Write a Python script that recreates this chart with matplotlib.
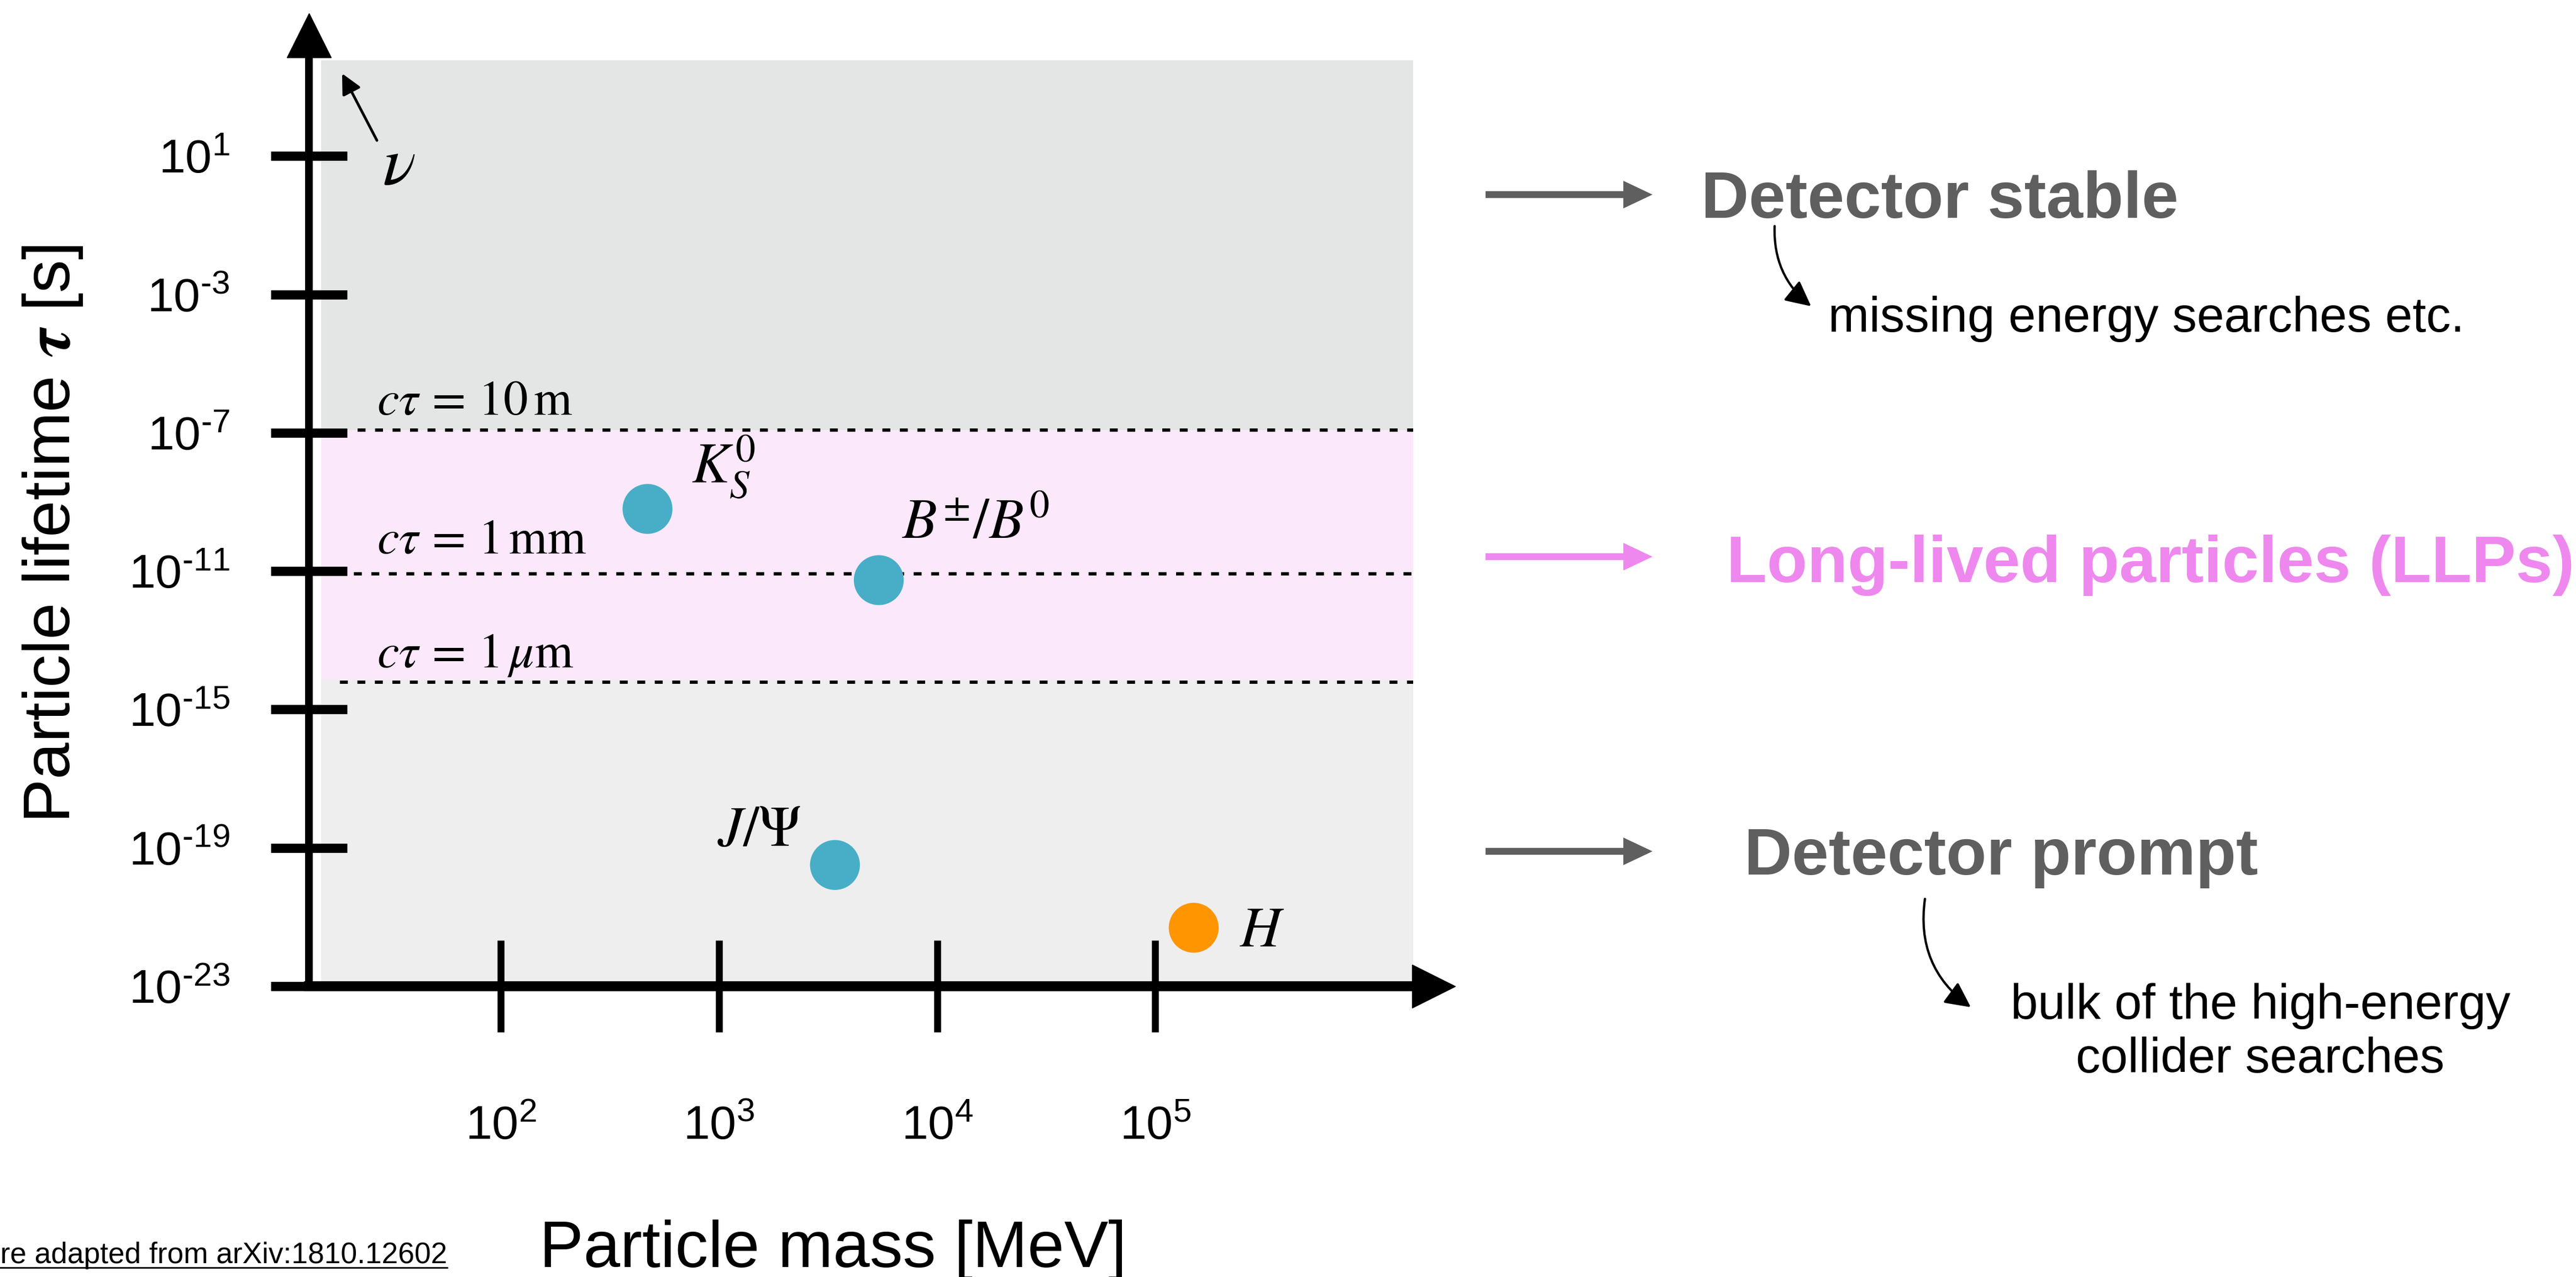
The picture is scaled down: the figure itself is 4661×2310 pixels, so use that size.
import matplotlib

matplotlib.use("Agg")
import matplotlib.pyplot as plt
from matplotlib.lines import Line2D

W, H, DPI = 4661, 2310, 100

# particles drawn as dots
particle_names = [r"$K_S^0$", r"$B^{\pm}/B^0$", r"$J/\Psi$", r"$H$"]
particle_mass = [470, 5400, 3400, 1.5e5]               # MeV
particle_tau = [6.3e-10, 5.5e-12, 3.2e-20, 4.9e-22]    # s
particle_colors = ["#48AEC7", "#48AEC7", "#48AEC7", "#FF9500"]

# c*tau reference lines
ctau_names = [r"$c\tau\, =\, 10\,\mathrm{m}$", r"$c\tau\, =\, 1\,\mathrm{mm}$",
              r"$c\tau\, =\, 1\,\mu\mathrm{m}$"]
ctau_tau = [1.2e-7, 8.5e-12, 6.2e-15]
ctau_start = [22, 14.6, 18.3]

llp_band = (7.2e-15, 1.2e-7)
region_mass = (15.0, 1.52e6)
region_tau_top = 6.0e3

xticks = [1e2, 1e3, 1e4, 1e5]
xtick_labels = ["$10^{2}$", "$10^{3}$", "$10^{4}$", "$10^{5}$"]
yticks = [1e1, 1e-3, 1e-7, 1e-11, 1e-15, 1e-19, 1e-23]
ytick_labels = ["$10^{1}$", r"$10^{\text{-}3}$", r"$10^{\text{-}7}$", r"$10^{\text{-}11}$",
                r"$10^{\text{-}15}$", r"$10^{\text{-}19}$", r"$10^{\text{-}23}$"]

plt.rcParams["font.family"] = ["Liberation Sans", "DejaVu Sans"]
plt.rcParams["mathtext.fontset"] = "custom"
plt.rcParams["mathtext.rm"] = "Liberation Sans"
plt.rcParams["mathtext.it"] = "Liberation Sans:italic"
plt.rcParams["mathtext.bf"] = "Liberation Sans:bold"

GRAY = "#5F5F5F"
VIOLET = "#EE88EE"


def fpx(x, y):
    """figure pixel (from top-left) -> figure fraction"""
    return x / W, 1 - y / H


fig = plt.figure(figsize=(W / DPI, H / DPI), dpi=DPI)
ax = fig.add_axes([559 / W, 1 - 1784 / H, (2594 - 559) / W, (1784 - 64) / H])
ax.set_xscale("log")
ax.set_yscale("log")
ax.set_xlim(10 ** 1.12, 10 ** 6.276)
ax.set_ylim(1e-23, 10 ** 4.49)
ax.patch.set_visible(False)

# background regions
ax.fill_between(region_mass, llp_band[1], region_tau_top, color="#E4E6E5", lw=0, zorder=0)
ax.fill_between(region_mass, llp_band[0], llp_band[1], color="#FBE8FB", lw=0, zorder=0)
ax.fill_between(region_mass, 1e-23, llp_band[0], color="#EEEEEE", lw=0, zorder=0)

# dashed c*tau lines + labels
ctau_dy = [20, 26, 19]
for name, tau, x0, dy in zip(ctau_names, ctau_tau, ctau_start, ctau_dy):
    ax.plot([x0, region_mass[1]], [tau, tau], color="k", lw=4.3,
            ls=(0, (2.4, 2.9)), zorder=2)
    ax.annotate(name, xy=(27, tau), xytext=(0, dy), textcoords="offset points",
                fontsize=64, math_fontfamily="stix", va="baseline", ha="left")

# particles
ax.scatter(particle_mass, particle_tau, s=65 ** 2, c=particle_colors,
           linewidths=0, zorder=3)
offsets = [(57, 33), (30, 54), (-153, 25), (60, -24)]
for name, m, t, off in zip(particle_names, particle_mass, particle_tau, offsets):
    ax.annotate(name, xy=(m, t), xytext=off, textcoords="offset points",
                fontsize=74, math_fontfamily="stix", va="baseline", ha="left")

# axes as thick arrows
for side in ("top", "right"):
    ax.spines[side].set_visible(False)
ax.spines["left"].set_linewidth(10)
ax.spines["bottom"].set_linewidth(13)
ax.plot([0], [1], marker="^", ms=58, color="k", transform=ax.transAxes, clip_on=False)
ax.plot([1], [0], marker=">", ms=56, color="k", transform=ax.transAxes, clip_on=False)

ax.set_xticks(xticks, xtick_labels)
ax.set_yticks(yticks, ytick_labels)
ax.minorticks_off()
ax.tick_params(axis="y", direction="inout", length=100, width=12, pad=53, labelsize=62)
ax.tick_params(axis="x", direction="inout", length=119, width=9, pad=95, labelsize=62)

ax.set_xlabel("Particle mass [MeV]", fontsize=86)
ax.xaxis.set_label_coords(0.4658, -0.2953)
ax.xaxis.label.set_va("baseline")
ax.set_ylabel(r"Particle lifetime $\boldsymbol{\tau}$ [s]", fontsize=86,
              math_fontfamily="stix")
ax.yaxis.set_label_coords(-0.2128, 0.4756)
ax.yaxis.label.set_va("baseline")

# neutrino: off the top of the chart
ax.annotate("", xy=fpx(619, 133), xytext=fpx(682, 254), xycoords="figure fraction",
            arrowprops=dict(arrowstyle="-|>", lw=3.5, color="k", mutation_scale=55,
                            shrinkA=0, shrinkB=0))
fig.text(*fpx(722, 301), r"$\nu$", fontsize=90, math_fontfamily="stix",
         ha="center", va="center")

# right-hand side categories
big_arrow = "simple,head_length=0.38,head_width=0.36,tail_width=0.09"
for y, col in ((352, GRAY), (1007, VIOLET), (1540, GRAY)):
    ax.annotate("", xy=fpx(2990, y), xytext=fpx(2688, y), xycoords="figure fraction",
                arrowprops=dict(arrowstyle=big_arrow, mutation_scale=100, lw=0,
                                color=col, shrinkA=0, shrinkB=0))

fig.text(*fpx(3078, 394), "Detector stable", fontsize=86, weight="bold",
         color=GRAY, va="baseline")
fig.text(*fpx(3124, 1053), "Long-lived particles (LLPs)", fontsize=86,
         weight="bold", color=VIOLET, va="baseline")
fig.text(*fpx(3156, 1582), "Detector prompt", fontsize=86, weight="bold",
         color=GRAY, va="baseline")

fig.text(*fpx(3308, 600), "missing energy searches etc.", fontsize=64, va="baseline")
fig.text(*fpx(4090, 1778), "bulk of the high-energy\ncollider searches", fontsize=64,
         ha="center", va="top", linespacing=1.2)

curved = dict(arrowstyle="-|>", lw=3, color="k", mutation_scale=70,
              shrinkA=0, shrinkB=0)
ax.annotate("", xy=fpx(3277, 554), xytext=fpx(3211, 409), xycoords="figure fraction",
            arrowprops=dict(connectionstyle="arc3,rad=0.25", **curved))
ax.annotate("", xy=fpx(3566, 1822), xytext=fpx(3483, 1626), xycoords="figure fraction",
            arrowprops=dict(connectionstyle="arc3,rad=0.3", **curved))

# source note, cut by the left edge as in the original
fig.text(*fpx(809, 2285), "Figure adapted from arXiv:1810.12602", fontsize=38.3,
         ha="right", va="baseline")
fig.add_artist(Line2D([0, 809 / W], [1 - 2293 / H] * 2, color="k", lw=2))

fig.savefig("out.png", dpi=DPI)
